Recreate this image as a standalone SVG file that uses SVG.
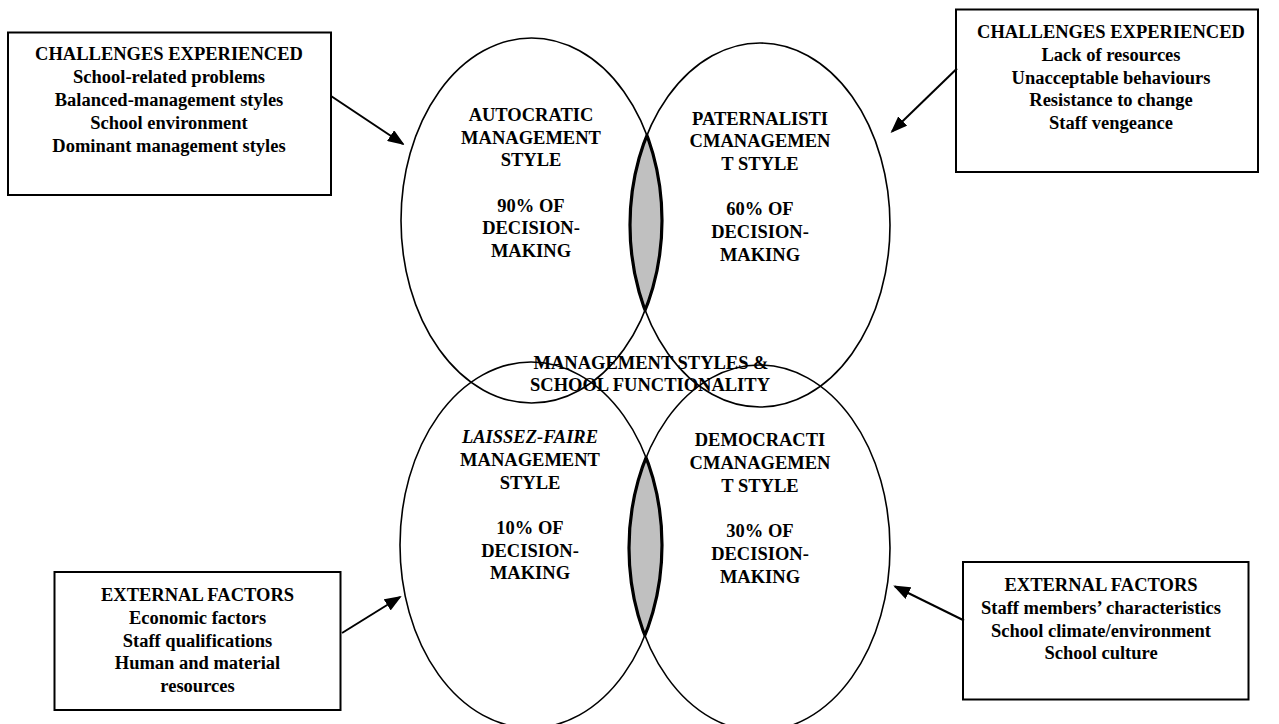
<svg xmlns="http://www.w3.org/2000/svg" width="1279" height="724" viewBox="0 0 1279 724">
<style>
text{font-family:"Liberation Serif","Times New Roman",serif;font-weight:bold;font-size:18.5px;fill:#000;text-anchor:middle}
.it{font-style:italic}
.ell{fill:none;stroke:#000;stroke-width:1.6}
.box{fill:#fff;stroke:#000;stroke-width:2}
.con{stroke:#000;stroke-width:2;fill:none;marker-end:url(#ah)}
.lens{fill:#c0c0c0;stroke:#000;stroke-width:3.2}
</style>
<defs>
<marker id="ah" viewBox="0 0 17 13" refX="15" refY="6.5" markerWidth="17" markerHeight="13" markerUnits="userSpaceOnUse" orient="auto">
<path d="M0,0 L17,6.5 L0,13 z" fill="#000"/>
</marker>
<clipPath id="c1"><ellipse cx="531.5" cy="220.5" rx="130.5" ry="182.5"/></clipPath>
<clipPath id="c3"><ellipse cx="531" cy="545" rx="131" ry="183"/></clipPath>
<clipPath id="c2"><ellipse cx="760" cy="225" rx="130" ry="182"/></clipPath>
<clipPath id="c4"><ellipse cx="759.5" cy="548" rx="130.5" ry="183"/></clipPath>
</defs>
<rect width="1279" height="724" fill="#fff"/>

<g id="lens-top">
<g clip-path="url(#c1)"><ellipse class="lens" cx="760" cy="225" rx="130" ry="182"/></g>
<g clip-path="url(#c2)"><ellipse cx="531.5" cy="220.5" rx="130.5" ry="182.5" fill="none" stroke="#000" stroke-width="3.2"/></g>
</g>
<g id="lens-bottom">
<g clip-path="url(#c3)"><ellipse class="lens" cx="759.5" cy="548" rx="130.5" ry="183"/></g>
<g clip-path="url(#c4)"><ellipse cx="531" cy="545" rx="131" ry="183" fill="none" stroke="#000" stroke-width="3.2"/></g>
</g>

<g id="autocratic">
<ellipse class="ell" cx="531.5" cy="220.5" rx="130.5" ry="182.5"/>
<text x="531" y="121">AUTOCRATIC</text>
<text x="531" y="143.5">MANAGEMENT</text>
<text x="531" y="166">STYLE</text>
<text x="531" y="211.5">90% OF</text>
<text x="531" y="234">DECISION-</text>
<text x="531" y="256.5">MAKING</text>
</g>

<g id="paternalistic">
<ellipse class="ell" cx="760" cy="225" rx="130" ry="182"/>
<text x="760" y="124.5">PATERNALISTI</text>
<text x="760" y="147.3">CMANAGEMEN</text>
<text x="760" y="170">T STYLE</text>
<text x="760" y="215">60% OF</text>
<text x="760" y="238">DECISION-</text>
<text x="760" y="260.5">MAKING</text>
</g>

<g id="laissez-faire">
<ellipse class="ell" cx="531" cy="545" rx="131" ry="183"/>
<text x="530" y="443" class="it">LAISSEZ-FAIRE</text>
<text x="530" y="466">MANAGEMENT</text>
<text x="530" y="488.5">STYLE</text>
<text x="530" y="533.5">10% OF</text>
<text x="530" y="556.5">DECISION-</text>
<text x="530" y="579.3">MAKING</text>
</g>

<g id="democratic">
<ellipse class="ell" cx="759.5" cy="548" rx="130.5" ry="183"/>
<text x="760" y="446">DEMOCRACTI</text>
<text x="760" y="469.3">CMANAGEMEN</text>
<text x="760" y="492">T STYLE</text>
<text x="760" y="536.7">30% OF</text>
<text x="760" y="560">DECISION-</text>
<text x="760" y="582.7">MAKING</text>
</g>

<g id="center-label">
<text x="651" y="368.5">MANAGEMENT STYLES &amp;</text>
<text x="650" y="391">SCHOOL FUNCTIONALITY</text>
</g>

<g id="challenges-left">
<rect class="box" x="8" y="32.5" width="323" height="162.5"/>
<text x="169" y="60">CHALLENGES EXPERIENCED</text>
<text x="169" y="83">School-related problems</text>
<text x="169" y="106">Balanced-management styles</text>
<text x="169" y="129">School environment</text>
<text x="169" y="152">Dominant management styles</text>
</g>

<g id="challenges-right">
<rect class="box" x="956" y="9.5" width="302" height="162.5"/>
<text x="1111" y="37.7">CHALLENGES EXPERIENCED</text>
<text x="1111" y="61">Lack of resources</text>
<text x="1111" y="83.5">Unacceptable behaviours</text>
<text x="1111" y="106">Resistance to change</text>
<text x="1111" y="129">Staff vengeance</text>
</g>

<g id="external-left">
<rect class="box" x="54.5" y="572" width="286" height="138"/>
<text x="197.5" y="601">EXTERNAL FACTORS</text>
<text x="197.5" y="623.5">Economic factors</text>
<text x="197.5" y="646.5">Staff qualifications</text>
<text x="197.5" y="669.3">Human and material</text>
<text x="197.5" y="691.7">resources</text>
</g>

<g id="external-right">
<rect class="box" x="963" y="562" width="285.5" height="137.5"/>
<text x="1101" y="591.3">EXTERNAL FACTORS</text>
<text x="1101" y="614">Staff members’ characteristics</text>
<text x="1101" y="636.7">School climate/environment</text>
<text x="1101" y="659.3">School culture</text>
</g>

<g id="connectors">
<line class="con" x1="331" y1="96" x2="403" y2="144"/>
<line class="con" x1="957" y1="68.5" x2="892" y2="131.5"/>
<line class="con" x1="342" y1="633" x2="400" y2="597"/>
<line class="con" x1="964" y1="620.5" x2="895" y2="586.5"/>
</g>
</svg>
